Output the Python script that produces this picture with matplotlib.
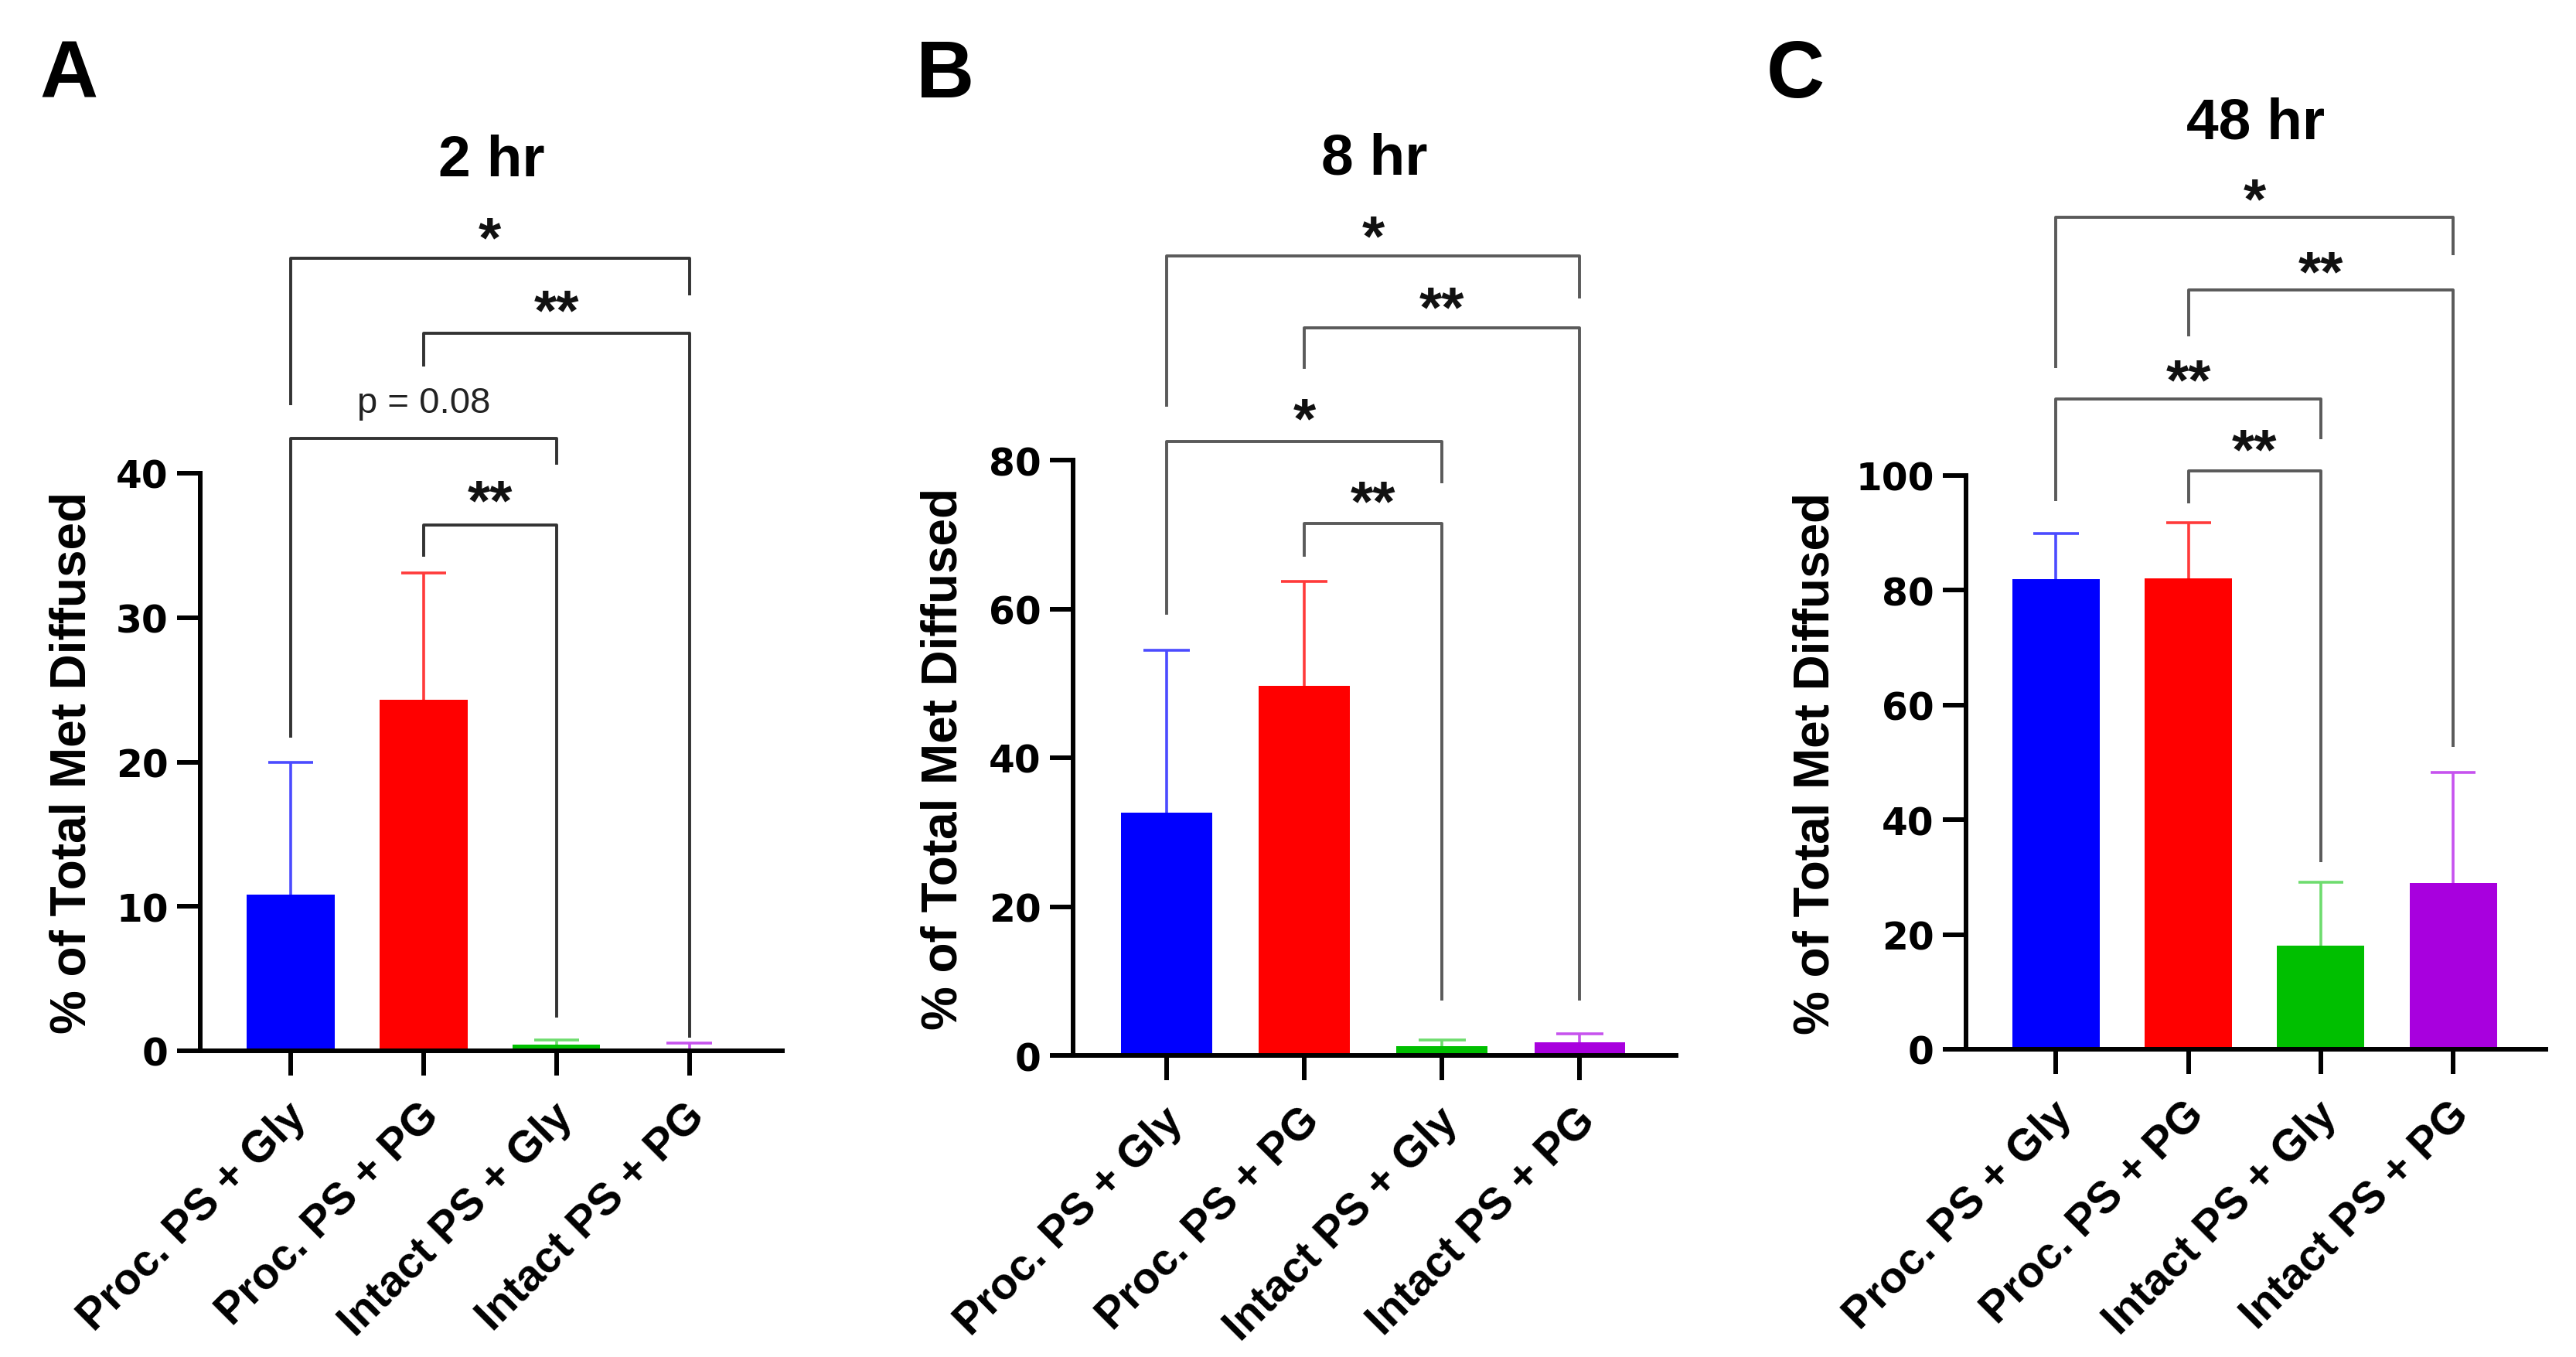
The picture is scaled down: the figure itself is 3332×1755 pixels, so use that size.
"""Percent of total Met diffused at 2, 8 and 48 hr, four formulations."""
import matplotlib
matplotlib.use("Agg")
import matplotlib.pyplot as plt
import matplotlib.transforms as mtransforms

plt.rcParams["font.family"] = ["Liberation Sans", "DejaVu Sans"]

groups = ["Proc. PS + Gly", "Proc. PS + PG", "Intact PS + Gly", "Intact PS + PG"]
bar_colors = ["#0000FF", "#FF0000", "#00BF00", "#A800DE"]
err_colors = ["#4B4BFF", "#FF3A3A", "#6EDC6E", "#C653EE"]

mean_2hr = [10.8, 24.3, 0.45, 0.15]
err_2hr = [9.2, 8.8, 0.3, 0.4]
mean_8hr = [32.6, 49.7, 1.2, 1.8]
err_8hr = [21.8, 14.0, 0.9, 1.1]
mean_48hr = [82.0, 82.1, 18.1, 29.0]
err_48hr = [7.9, 9.7, 11.0, 19.3]

yticks_2hr = [0, 10, 20, 30, 40]
yticks_8hr = [0, 20, 40, 60, 80]
yticks_48hr = [0, 20, 40, 60, 80, 100]

# (group a, group b, bracket top, left leg end, right leg end, label, label centre)
comps_2hr = [
    (0, 3, 54.9, 44.7, 52.3, "*", 57.4),
    (1, 3, 49.7, 47.4, 0.9, "**", 52.4),
    (0, 2, 42.4, 21.7, 40.6, "p = 0.08", 45.1),
    (1, 2, 36.4, 34.2, 2.3, "**", 39.2),
]
comps_8hr = [
    (0, 3, 107.4, 87.2, 101.7, "*", 112.2),
    (1, 3, 97.8, 92.3, 7.4, "**", 102.7),
    (0, 2, 82.5, 59.2, 76.9, "*", 87.7),
    (1, 2, 71.5, 67.0, 7.4, "**", 76.6),
]
comps_48hr = [
    (0, 3, 145.0, 118.7, 138.4, "*", 151.0),
    (1, 3, 132.3, 124.2, 52.7, "**", 138.3),
    (0, 2, 113.3, 95.5, 106.3, "**", 119.4),
    (1, 2, 100.8, 95.2, 32.6, "**", 107.3),
]

W, H = 3332, 1756

# layout in pixels of the output image
panels = [
    dict(letter="A", title="2 hr", means=mean_2hr, errs=err_2hr, yticks=yticks_2hr,
         comps=comps_2hr, left=259, right=1012, bottom=1360, top=613,
         title_base=228, letter_x=51, ylabel_x=124, bracket="#333333"),
    dict(letter="B", title="8 hr", means=mean_8hr, errs=err_8hr, yticks=yticks_8hr,
         comps=comps_8hr, left=1388, right=2168, bottom=1366, top=596,
         title_base=226, letter_x=1185, ylabel_x=1251, bracket="#5a5a5a"),
    dict(letter="C", title="48 hr", means=mean_48hr, errs=err_48hr, yticks=yticks_48hr,
         comps=comps_48hr, left=2543, right=3293, bottom=1358, top=616,
         title_base=180, letter_x=2285, ylabel_x=2379, bracket="#5a5a5a"),
]

fig = plt.figure(figsize=(W / 100, H / 100), dpi=100)

for p in panels:
    ax = fig.add_axes([p["left"] / W, 1 - p["bottom"] / H,
                       (p["right"] - p["left"]) / W, (p["bottom"] - p["top"]) / H])
    x = list(range(len(groups)))
    tops = [m + e for m, e in zip(p["means"], p["errs"])]

    ax.bar(x, p["means"], width=0.66, color=bar_colors, zorder=2)
    ax.vlines(x, p["means"], tops, colors=err_colors, lw=2.6, zorder=3)
    ax.hlines(tops, [i - 0.17 for i in x], [i + 0.17 for i in x],
              colors=err_colors, lw=2.6, zorder=3)

    ax.set_xlim(-0.68, 3.70)
    ax.set_ylim(0, p["yticks"][-1])
    ax.set_xticks(x)
    for s in ["top", "right"]:
        ax.spines[s].set_visible(False)
    for s in ["left", "bottom"]:
        ax.spines[s].set_linewidth(4.3)
    ax.tick_params(axis="y", length=21.6, width=4.3, pad=8)
    ax.tick_params(axis="x", length=23, width=4.3, pad=18)
    ax.set_yticks(p["yticks"])
    ax.set_yticklabels([str(t) for t in p["yticks"]], fontsize=35,
                       fontweight="bold", family=["DejaVu Sans"])

    offset = mtransforms.ScaledTranslation(-5 / 72, 0, fig.dpi_scale_trans)
    ax.set_xticklabels(groups, rotation=45, ha="right", va="top",
                       rotation_mode="anchor", fontweight="bold", fontsize=41)
    for lab in ax.get_xticklabels():
        lab.set_transform(lab.get_transform() + offset)

    ax.set_ylabel("% of Total Met Diffused", fontsize=46, fontweight="bold",
                  family=["Liberation Sans Narrow", "Liberation Sans"])
    ax.yaxis.set_label_coords((p["ylabel_x"] - p["left"]) / (p["right"] - p["left"]), 0.5)

    # significance brackets
    for a, b, h, lb, rb, text, ty in p["comps"]:
        ax.plot([a, a, b, b], [lb, h, h, rb], color=p["bracket"], lw=2.8,
                solid_capstyle="butt", clip_on=False, zorder=4)
        if text.startswith("p"):
            ax.annotate(text, xy=((a + b) / 2, ty), xytext=(0, -12),
                        textcoords="offset points", ha="center", va="baseline",
                        fontsize=34, color="#222222", annotation_clip=False)
        else:
            ax.annotate(text, xy=((a + b) / 2, ty), xytext=(0, -32),
                        textcoords="offset points", ha="center", va="baseline",
                        fontsize=54, fontweight="bold", color="#111111",
                        annotation_clip=False)

    cx = (p["left"] + p["right"]) / 2 / W
    fig.text(cx, 1 - p["title_base"] / H, p["title"], ha="center", va="baseline",
             fontsize=54, fontweight="bold")
    fig.text(p["letter_x"] / W, 1 - 126 / H, p["letter"], ha="left", va="baseline",
             fontsize=75, fontweight="bold")

fig.savefig("out.png", dpi=100)
